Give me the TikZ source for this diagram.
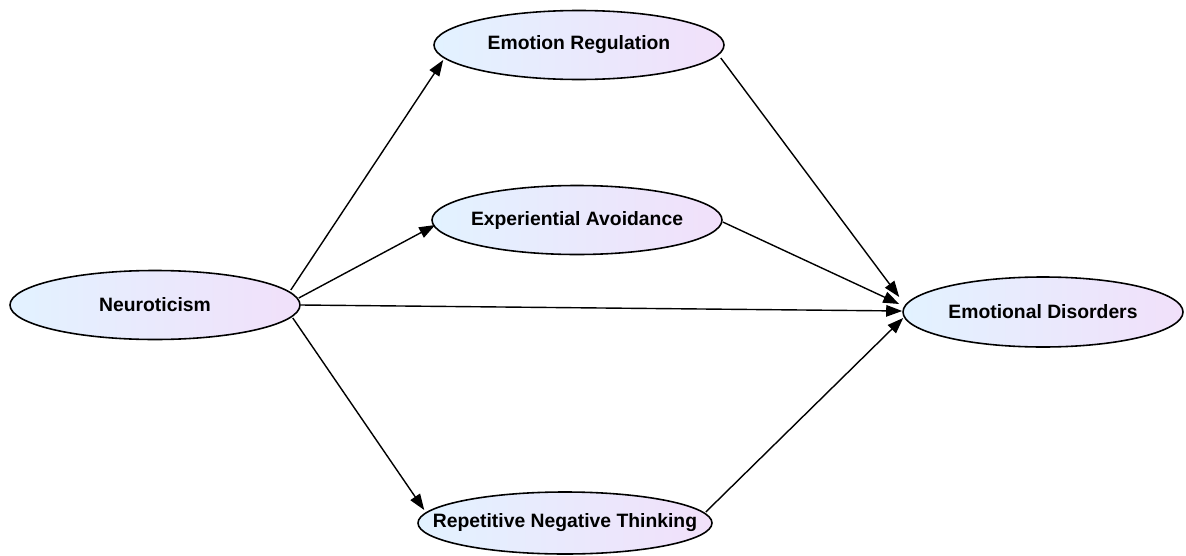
\documentclass[tikz,border=0pt]{standalone}
\usepackage{fontspec}
\setmainfont{Liberation Sans}
\usepackage{tikz}
\usetikzlibrary{arrows.meta,positioning,shapes.geometric}
\definecolor{ovleft}{HTML}{E2F2FF}
\definecolor{ovright}{HTML}{F1E0FA}
\tikzstyle{construct}=[ellipse, draw, line width=0.9pt, left color=ovleft, right color=ovright,
minimum width=5.8cm, minimum height=1.38cm, inner xsep=-20pt, inner ysep=0pt, font=\fontsize{11}{13}\selectfont\bfseries]
\tikzstyle{line} = [draw, line width=0.8pt, color=black, -{Triangle[length=3.2mm,width=2.3mm]}]
\newcommand{\construct}[2]{node (c#1)[construct]{#2}}

\begin{document}
\begin{tikzpicture}
		\useasboundingbox (0,0) rectangle (23.72,11.1);
		
		% Draw diagram elements
		\path (3.10,5.00) \construct{1}{Neuroticism};
		\path (c1.center)+(8.48,5.20) \construct{2}{Emotion Regulation};
		\path (c1.center)+(8.44,1.70) \construct{3}{Experiential Avoidance};
		\path (c1.center)+(8.20,-4.36) node (c4)[construct, minimum width=5.88cm, minimum height=1.24cm]{Repetitive Negative Thinking};
		\path (c1.center)+(17.76,-0.14) node (c5)[construct, minimum width=5.6cm, minimum height=1.4cm]{Emotional Disorders};
		
		% Draw arrows between elements
		\path [line] ([shift={(-0.2,0.3)}]c1.east) -- ([shift={(0.2,-0.3)}]c2.west);
		\path [line] ([shift={(-0.04,0.14)}]c1.east) -- ([shift={(0.08,-0.1)}]c3.west);
		\path [line] (c1.east) -- ([shift={(0,0.02)}]c5.west);
		\path [line] ([shift={(-0.16,-0.26)}]c1.east) -- ([shift={(0.14,0.26)}]c4.west);
		\path [line] ([shift={(-0.08,-0.26)}]c2.east) -- ([shift={(-0.06,0.3)}]c5.west);
		\path [line] ([shift={(0,-0.04)}]c3.east) -- ([shift={(-0.06,0.16)}]c5.west);
		\path [line] ([shift={(-0.14,0.22)}]c4.east) -- ([shift={(0.02,-0.12)}]c5.west);
		\end{tikzpicture}
\end{document}
